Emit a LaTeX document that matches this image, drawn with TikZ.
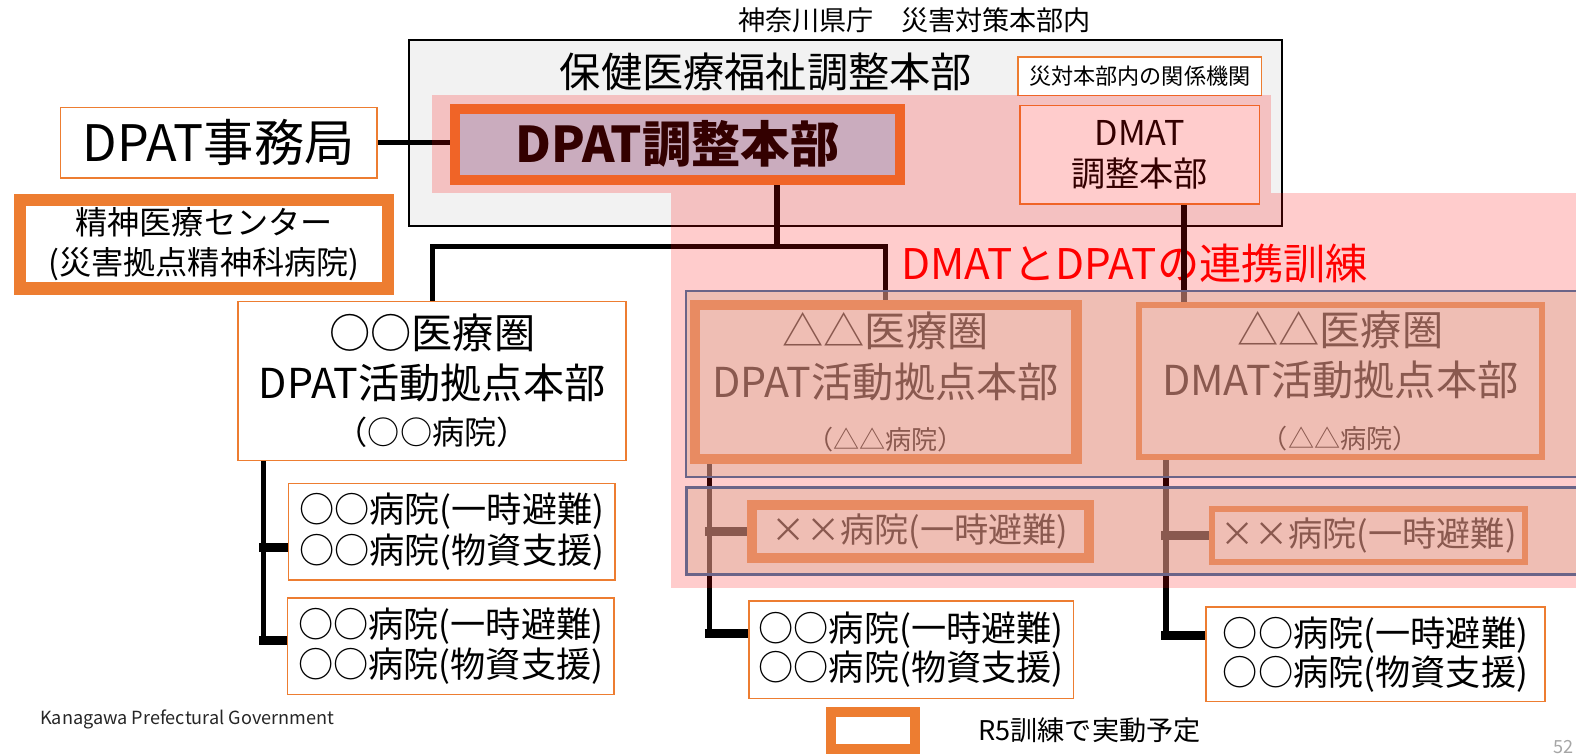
\documentclass[tikz,border=0pt]{standalone}
\usepackage{fontspec}
\setmainfont{Noto Sans CJK JP}
\usetikzlibrary{calc}
\definecolor{orA}{HTML}{ED7D31}
\definecolor{grayF}{HTML}{F2F2F2}
\definecolor{lblue}{HTML}{BDD7EE}
\definecolor{purp}{HTML}{6B6488}
\definecolor{veilc}{RGB}{225,178,158}
\definecolor{pgnum}{HTML}{A6A6A6}
\newcommand{\fsz}[2]{\fontsize{#1}{#2}\selectfont}
\pgfdeclarelayer{back}
\pgfdeclarelayer{lines}
\pgfdeclarelayer{veil}
\pgfsetlayers{back,lines,main,veil}
\begin{document}
\begin{tikzpicture}[x=0.5pt,y=-0.5pt,
  box/.style={draw=orA, line width=0.8pt, fill=white, rectangle, inner sep=0pt, align=center, text=black},
  thickbox/.style={box, line width=5pt},
  midbox/.style={box, line width=3pt},
  conn/.style={line width=2.6pt, black, line cap=rect},
  stub/.style={line width=4.5pt, black, line cap=rect}]
\begin{pgfonlayer}{back}
\fill[white] (0,0) rectangle (1568,752);
\node[draw=black, line width=1pt, fill=grayF, minimum width=434pt, minimum height=92.5pt, inner sep=0pt] (ken) at (841,132.5) {};
\node[text=red, font=\fsz{21}{25}] (renkei) at (1129,262) {DMATとDPATの連携訓練};
\end{pgfonlayer}
\useasboundingbox (0,0) rectangle (1568,752);

% texts
\node[font=\fsz{13.5}{16}] (cap) at (910,20) {神奈川県庁　災害対策本部内};
\node[font=\fsz{20.5}{24}] (hoken) at (762,72) {保健医療福祉調整本部};
\node[box, minimum width=121pt, minimum height=19pt, font=\fsz{11}{13}] (kikan) at (1134,76) {災対本部内の関係機関};

% top boxes
\node[thickbox, fill=lblue, minimum width=221pt, minimum height=35.5pt, font=\fsz{24.5}{28}\bfseries] (dpatHQ) at (674,143.5) {DPAT調整本部};
\node[box, minimum width=119pt, minimum height=49pt, font=\fsz{17}{20.5}] (dmatHQ) at (1134,154) {DMAT\\調整本部};
\node[box, minimum width=157.5pt, minimum height=35pt, font=\fsz{25}{29}] (jimu) at (217.5,142) {DPAT事務局};
\node[box, line width=6pt, minimum width=183pt, minimum height=44pt, font=\fsz{16}{20}] (center) at (203,243) {精神医療センター\\(災害拠点精神科病院)};

% regional HQs
\node[box, minimum width=193pt, minimum height=79pt, font=\fsz{20.5}{25}] (ryo) at (430,379) {○○医療圏\\DPAT活動拠点本部\\[-2pt]{\fsz{16}{18}（○○病院）}};
\node[thickbox, minimum width=190pt, minimum height=77pt, font=\fsz{20.5}{25}] (dpatBase) at (881,380) {△△医療圏\\DPAT活動拠点本部\\[1pt]{\fsz{13}{15}（△△病院）}};
\node[midbox, minimum width=200.5pt, minimum height=76pt, font=\fsz{20.5}{25}] (dmatBase) at (1333.5,379) {△△医療圏\\DMAT活動拠点本部\\[1pt]{\fsz{13}{15}（△△病院）}};

% hospitals
\node[box, minimum width=162.5pt, minimum height=48pt, font=\fsz{17.5}{20}] (hospA) at (449.5,529) {○○病院(一時避難)\\○○病院(物資支援)};
\node[box, minimum width=162.5pt, minimum height=48pt, font=\fsz{17.5}{20}] (hospB) at (448.5,643) {○○病院(一時避難)\\○○病院(物資支援)};
\node[box, minimum width=161.5pt, minimum height=48.5pt, font=\fsz{17.5}{19.5}] (hospC) at (906.5,646.5) {○○病院(一時避難)\\○○病院(物資支援)};
\node[box, minimum width=168.5pt, minimum height=47pt, font=\fsz{17.5}{19.5}] (hospD) at (1368.5,651) {○○病院(一時避難)\\○○病院(物資支援)};
\node[thickbox, minimum width=167.5pt, minimum height=26.5pt, font=\fsz{17}{20}] (xxA) at (915.5,528.5) {××病院(一時避難)};
\node[midbox, minimum width=155.5pt, minimum height=26.5pt, font=\fsz{17}{20}] (xxB) at (1361.5,532.5) {××病院(一時避難)};

% legend and footer
\node[thickbox, minimum width=41.5pt, minimum height=18.5pt] (leg) at (868.5,726.5) {};
\node[font=\fsz{13.5}{16}] (legtxt) at (1084,727) {R5訓練で実動予定};
\node[anchor=west, font=\fsz{9}{11}, text=black!85] (kana) at (33,716) {Kanagawa Prefectural Government};
\node[anchor=south east, inner sep=1pt, font=\fsz{9}{11}, text=pgnum] (pg) at (1568,752) {52};

% connectors
\coordinate (j1) at (773,245);
\coordinate (d1) at (1178,0);
\coordinate (l1) at (262,0);
\coordinate (r1) at (706,0);
\coordinate (r2) at (1160,0);
\coordinate (ya) at (0,545);
\coordinate (yb) at (0,637);
\coordinate (yc) at (0,630);
\coordinate (yd) at (0,632);
\begin{pgfonlayer}{lines}
\draw[conn] (jimu.east) -- (jimu.east -| dpatHQ.west);
\draw[conn] (dpatHQ.south -| j1) -- (j1);
\draw[conn, line cap=butt] (ryo.north) |- (j1) -| (dpatBase.north);
\draw[conn] (dmatHQ.south -| d1) -- (dmatBase.north -| d1);
\draw[conn] (ryo.south -| l1) -- (l1 |- yb);
\draw[stub] (l1 |- ya) -- (ya -| hospA.west);
\draw[stub] (l1 |- yb) -- (yb -| hospB.west);
\draw[conn] (dpatBase.south -| r1) -- (r1 |- yc);
\draw[stub] (r1 |- xxA.west) -- (xxA.west);
\draw[stub] (r1 |- yc) -- (yc -| hospC.west);
\draw[conn] (dmatBase.south -| r2) -- (r2 |- yd);
\draw[stub] (r2 |- xxB.west) -- (xxB.west);
\draw[stub] (r2 |- yd) -- (yd -| hospD.west);
\end{pgfonlayer}

% overlays
\begin{pgfonlayer}{veil}
\fill[red, opacity=0.2] (430,95) rectangle (1265,192);
\fill[red, opacity=0.2] (668,192) rectangle (1600,585);
\fill[veilc, opacity=0.5] (683,290) rectangle (1600,475);
\draw[purp, line width=1pt] (683,290) rectangle (1600,475);
\fill[veilc, opacity=0.5] (683,485) rectangle (1600,572);
\draw[purp, line width=1.5pt] (683,485) rectangle (1600,572);
\end{pgfonlayer}
\end{tikzpicture}
\end{document}
